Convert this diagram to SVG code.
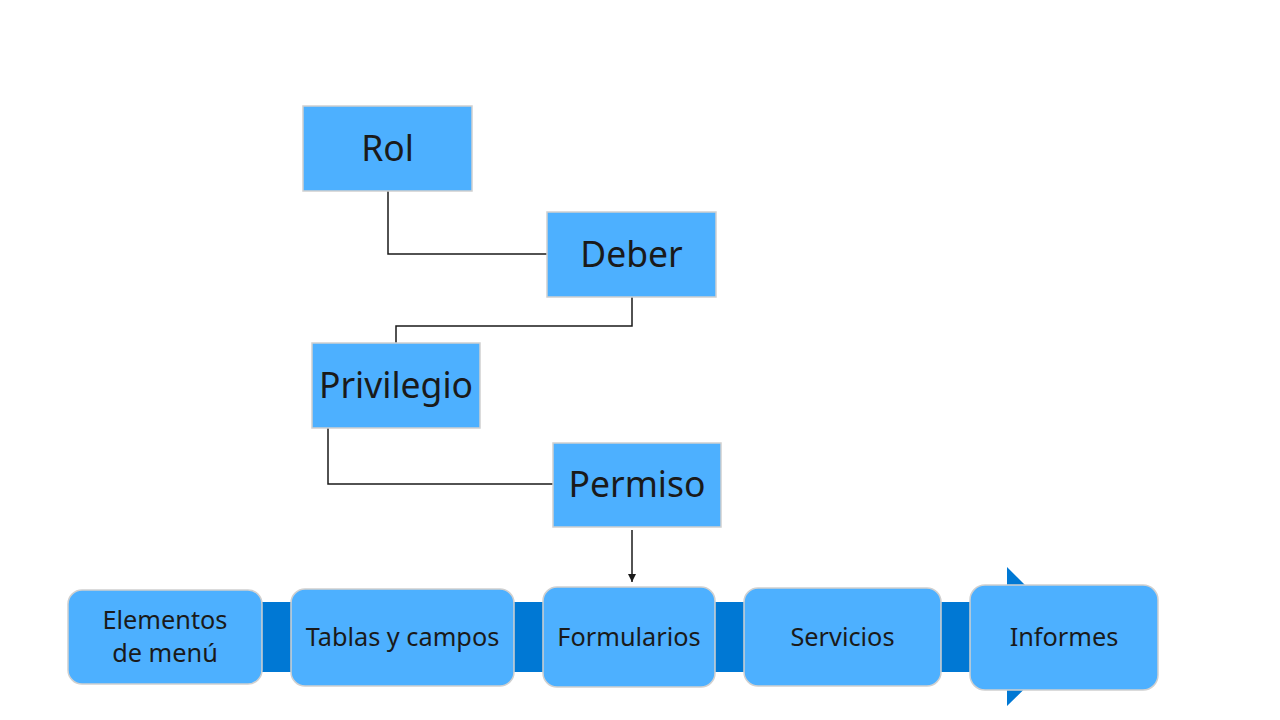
<svg xmlns="http://www.w3.org/2000/svg" width="1280" height="720" viewBox="0 0 1280 720">
<defs>
<style>
.box{fill:#4DB0FF;stroke:#D0D0D0;stroke-width:1.5}
.t{font-family:"Noto Sans","Open Sans","Liberation Sans",sans-serif;fill:#1a1a1a;text-anchor:middle}
.big{font-size:35.5px}
.sm{font-size:25.3px}
.c{fill:none;stroke:#1a1a1a;stroke-width:1.5}
</style>
<marker id="arr" markerWidth="10" markerHeight="10" refX="9" refY="5" orient="auto" markerUnits="userSpaceOnUse" viewBox="0 0 10 10">
<path d="M1,1 L9,5 L1,9 Z" fill="#1a1a1a"/>
</marker>
</defs>
<rect width="1280" height="720" fill="#ffffff"/>
<g id="band">
<path d="M262,602 L1007,602 L1007,567 L1077,637 L1007,706 L1007,672 L262,672 Z" fill="#0078D4"/>
</g>
<g id="connectors">
<path class="c" d="M388,191 V254 H547"/>
<path class="c" d="M632,297 V326 H396 V343"/>
<path class="c" d="M328,428 V484 H553"/>
<path class="c" d="M632,530 V582" marker-end="url(#arr)"/>
</g>
<g id="rol"><rect class="box" x="303" y="106" width="169" height="85"/><text class="t big" x="387.5" y="161">Rol</text></g>
<g id="deber"><rect class="box" x="547" y="212" width="169" height="85"/><text class="t big" x="631.5" y="267">Deber</text></g>
<g id="privilegio"><rect class="box" x="312" y="343" width="168" height="85"/><text class="t big" x="396" y="398">Privilegio</text></g>
<g id="permiso"><rect class="box" x="553" y="443" width="168" height="84"/><text class="t big" x="637" y="497">Permiso</text></g>
<g id="elementos"><rect class="box" x="68" y="590" width="194" height="94" rx="14"/><text class="t sm" x="165" y="629">Elementos</text><text class="t sm" x="165" y="662">de menú</text></g>
<g id="tablas"><rect class="box" x="291" y="589" width="223" height="97" rx="14"/><text class="t sm" x="402.5" y="646">Tablas y campos</text></g>
<g id="formularios"><rect class="box" x="543" y="587" width="172" height="100" rx="14"/><text class="t sm" x="629" y="646">Formularios</text></g>
<g id="servicios"><rect class="box" x="744" y="588" width="197" height="98" rx="14"/><text class="t sm" x="842.5" y="646">Servicios</text></g>
<g id="informes"><rect class="box" x="970" y="585" width="188" height="105" rx="15"/><text class="t sm" x="1064" y="646">Informes</text></g>
</svg>
